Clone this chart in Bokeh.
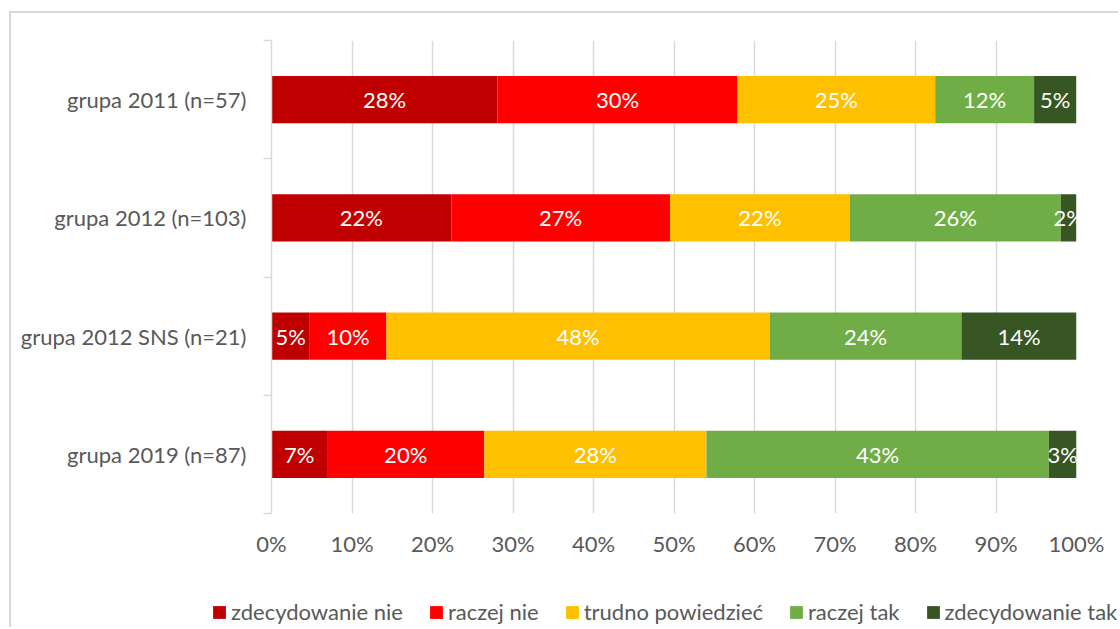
from bokeh.plotting import figure
from bokeh.models import (Range1d, FixedTicker, Legend, LegendItem, ColumnDataSource,
                          PrintfTickFormatter)
from bokeh.core.properties import value
from bokeh.embed import file_html
from bokeh.resources import INLINE

groups = ["grupa 2011 (n=57)", "grupa 2012 (n=103)", "grupa 2012 SNS (n=21)", "grupa 2019 (n=87)"]
series = ["zdecydowanie nie", "raczej nie", "trudno powiedzieć", "raczej tak", "zdecydowanie tak"]
zdecydowanie_nie = [28.07, 22.33, 4.76, 6.90]
raczej_nie = [29.82, 27.18, 9.52, 19.54]
trudno = [24.56, 22.33, 47.62, 27.59]
raczej_tak = [12.28, 26.21, 23.81, 42.53]
zdecydowanie_tak = [5.26, 1.94, 14.29, 3.45]
x_ticks = [0, 10, 20, 30, 40, 50, 60, 70, 80, 90, 100]

colors = ["#C00000", "#FF0000", "#FFC000", "#70AD47", "#375623"]
FONT = "Lato"
FS = "22px"
GRAY = "#595959"
GRID = "#D9D9D9"

n = len(groups)
ypos = [n - 0.5 - i for i in range(n)]
cols = ["s0", "s1", "s2", "s3", "s4"]
vals = [zdecydowanie_nie, raczej_nie, trudno, raczej_tak, zdecydowanie_tak]
data = {"y": ypos}
for c, v in zip(cols, vals):
    data[c] = v
src = ColumnDataSource(data)

W = 1109
H_MAIN = 577
H_LEG = 616 - H_MAIN

p = figure(width=W, height=H_MAIN, output_backend="svg", toolbar_location=None,
           x_range=Range1d(0, 100), y_range=Range1d(0, n),
           min_border_left=260, min_border_right=44, min_border_top=27,
           min_border_bottom=H_MAIN - 500,
           styles={"margin-left": "9px", "margin-top": "11px",
                   "border-left": "2px solid #D9D9D9", "border-top": "2px solid #D9D9D9"})
p.outline_line_color = None
p.background_fill_color = "white"

rs = p.hbar_stack(cols, y="y", height=0.4, color=colors, source=src, line_color=None)

# bar labels
lx, ly, lt = [], [], []
for gi in range(n):
    left = 0.0
    for si in range(len(cols)):
        v = vals[si][gi]
        lx.append(left + v / 2)
        ly.append(ypos[gi])
        lt.append(f"{v:.0f}%")
        left += v
p.text(x=lx, y=ly, text=lt, text_align="center", text_baseline="middle",
       text_color="white", text_font=value(FONT), text_font_size=FS)

# x axis
p.xaxis.ticker = FixedTicker(ticks=x_ticks)
p.xaxis.formatter = PrintfTickFormatter(format="%d%%")
p.xaxis.axis_line_color = None
p.xaxis.major_tick_line_color = None
p.xaxis.minor_tick_line_color = None
p.xaxis.major_tick_out = 0
p.xaxis.major_tick_in = 0
p.xaxis.major_label_standoff = 16
p.xaxis.major_label_text_font = FONT
p.xaxis.major_label_text_font_size = FS
p.xaxis.major_label_text_color = GRAY
p.xgrid.ticker = FixedTicker(ticks=x_ticks)
p.xgrid.grid_line_color = GRID
p.xgrid.grid_line_width = 1.5
p.ygrid.grid_line_color = None

# y axis
p.yaxis.ticker = FixedTicker(ticks=ypos, minor_ticks=list(range(n + 1)))
p.yaxis.major_label_overrides = {y: g for y, g in zip(ypos, groups)}
p.yaxis.axis_line_color = GRID
p.yaxis.axis_line_width = 1.5
p.yaxis.major_tick_line_color = None
p.yaxis.major_tick_out = 0
p.yaxis.major_tick_in = 0
p.yaxis.minor_tick_line_color = GRID
p.yaxis.minor_tick_line_width = 1.5
p.yaxis.minor_tick_out = 8
p.yaxis.minor_tick_in = 0
p.yaxis.major_label_standoff = 17
p.yaxis.major_label_text_font = FONT
p.yaxis.major_label_text_font_size = FS
p.yaxis.major_label_text_color = GRAY

# legend strip (separate root so its frame is not aligned to the main plot)
pl = figure(width=W, height=H_LEG, output_backend="svg", toolbar_location=None,
            x_range=Range1d(0, 1), y_range=Range1d(0, 1),
            x_axis_location=None, y_axis_location=None,
            min_border_left=0, min_border_right=0, min_border_top=0, min_border_bottom=0,
            styles={"margin-left": "9px", "border-left": "2px solid #D9D9D9"})
pl.grid.visible = False
pl.outline_line_color = None
lrs = [pl.hbar(y=[-10], left=[0], right=[1], height=0.5, color=c, line_color=None) for c in colors]
legend = Legend(items=[LegendItem(label=s, renderers=[r]) for s, r in zip(series, lrs)],
                orientation="horizontal", location=(200, H_LEG - 37),
                glyph_width=16, glyph_height=16, label_height=22, label_standoff=4,
                spacing=25, padding=0, margin=0, border_line_color=None,
                background_fill_alpha=0, label_text_font=FONT,
                label_text_font_size=FS, label_text_color=GRAY)
pl.add_layout(legend, "center")

open("out.html", "w").write(file_html([p, pl], INLINE))
